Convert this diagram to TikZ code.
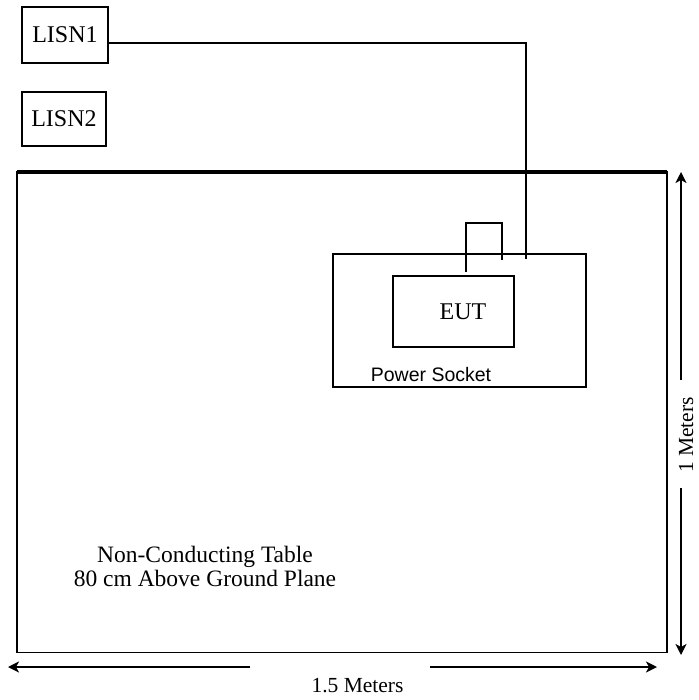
\documentclass[tikz,border=0pt]{standalone}
\usepackage{fontspec}
\setmainfont{Liberation Serif}
\newfontfamily\socketfont{Liberation Sans}
\usetikzlibrary{arrows.meta,positioning}

\begin{document}
\begin{tikzpicture}[
    x=1pt, y=-1pt,
    every node/.style={font=\fontsize{24}{24}\selectfont},
    box/.style={draw, line width=1.9pt, inner sep=0pt},
    wire/.style={line width=1.9pt},
    dim/.style={-{Stealth[length=11pt, width=11pt, inset=3pt]}, line width=1.9pt},
    dimlabel/.style={font=\fontsize{21.5}{22}\selectfont, inner sep=0pt}
]
\useasboundingbox (0,0) rectangle (698,700);

% LISNs
\node[box, minimum width=86pt, minimum height=56pt] (lisn1) at (65,35) {LISN1};
\node[box, minimum width=84pt, minimum height=54pt] (lisn2) at (64,119) {LISN2};

% table
\draw[wire] (17,172) rectangle (666.7,652.5);
\draw[line width=4pt] (17,172) -- (666.7,172);
\node[align=center, font=\fontsize{23.5}{24}\selectfont] (table) at (205,566) {Non-Conducting Table\\80 cm Above Ground Plane};

% power socket and EUT
\node[box, minimum width=253pt, minimum height=133pt] (socket) at (459.5,320.5) {};
\node[font=\socketfont\fontsize{19.5}{20}\selectfont] (socketlabel) at (431,375) {Power Socket};
\node[box, minimum width=121pt, minimum height=71pt] (eut) at (453.5,311.5) {\hspace*{19pt}EUT};

\coordinate (plugA) at (525.7,259);
\coordinate (plugB) at (501.7,260);
\draw[wire] ([yshift=-8pt]lisn1.east) -| (plugA);
\draw[wire] ([xshift=12.2pt, yshift=3pt]eut.north) |- ++(36,-49) -- (plugB);

% dimensions
\node[dimlabel] (width) at (357.5,686) {1.5 Meters};
\node[dimlabel, rotate=90] (height) at (686,435) {1 Meters};
\coordinate (wl) at (250,667);
\coordinate (wr) at (430,667);
\coordinate (ht) at (681,380);
\coordinate (hb) at (681,488);
\draw[dim] (wl) -- (8,667);
\draw[dim] (wr) -- (657,667);
\draw[dim] (ht) -- (681,172);
\draw[dim] (hb) -- (681,655);
\end{tikzpicture}
\end{document}
